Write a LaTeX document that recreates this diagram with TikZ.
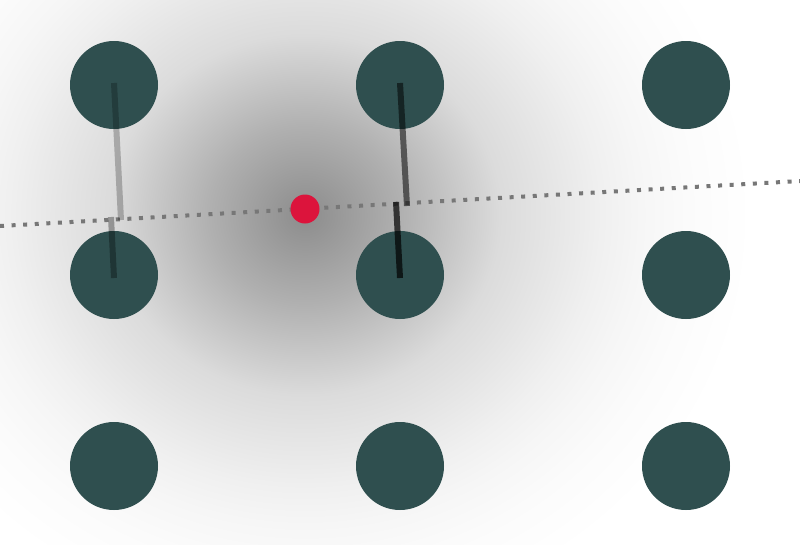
\documentclass[tikz,border=0pt]{standalone}
\definecolor{slate}{HTML}{2F4F4F}
\definecolor{crim}{HTML}{DC143C}
\definecolor{dotgray}{HTML}{777777}
\pgfdeclareradialshading{glow}{\pgfpointorigin}{color(0bp)=(black!45); color(4.76bp)=(black!31); color(9.76bp)=(black!14); color(14.76bp)=(black!6); color(16.8bp)=(black!3.5); color(19.2bp)=(black!1.5); color(22.4bp)=(white); color(100bp)=(white)}
\begin{document}
\begin{tikzpicture}[x=1pt,y=-1pt,
  site/.style={circle, fill=slate, minimum size=88pt, inner sep=0pt},
  probe/.style={circle, fill=crim, minimum size=29pt, inner sep=0pt},
  seg/.style={draw=black, line width=6pt, line cap=butt},
  fitline/.style={draw=dotgray, line width=4pt, dash pattern=on 4pt off 7.6pt}]
\useasboundingbox (0,0) rectangle (800,544);
\fill[white] (0,0) rectangle (800,544);
\begin{scope}
\clip (0,0) rectangle (800,544);
\shade[shading=glow] (305,215) ellipse [x radius=500, y radius=462.5];
\end{scope}
% sites
\node[site] (c11) at (114,85) {};
\node[site] (c12) at (400,85) {};
\node[site] (c13) at (686,85) {};
\node[site] (c21) at (114,275) {};
\node[site] (c22) at (400,275) {};
\node[site] (c23) at (686,275) {};
\node[site] (c31) at (114,466) {};
\node[site] (c32) at (400,466) {};
\node[site] (c33) at (686,466) {};
% dotted line
\coordinate (L) at (0,226);
\coordinate (R) at (800,181);
\draw[fitline] (L) -- (R);
% segments
\coordinate (a1) at (114,83);
\coordinate (a2) at (121,220);
\coordinate (b1) at (111,217);
\coordinate (b2) at (114,278);
\coordinate (d1) at (400,83);
\coordinate (d2) at (407,206);
\coordinate (e1) at (396,202);
\coordinate (e2) at (400,278);
\draw[seg, draw opacity=0.24] (a1) -- (a2);
\draw[seg, draw opacity=0.32] (b1) -- (b2);
\draw[seg, draw opacity=0.54] (d1) -- (d2);
\draw[seg, draw opacity=0.70] (e1) -- (e2);
% probe point
\node[probe] (p) at (305,209) {};
\end{tikzpicture}
\end{document}
